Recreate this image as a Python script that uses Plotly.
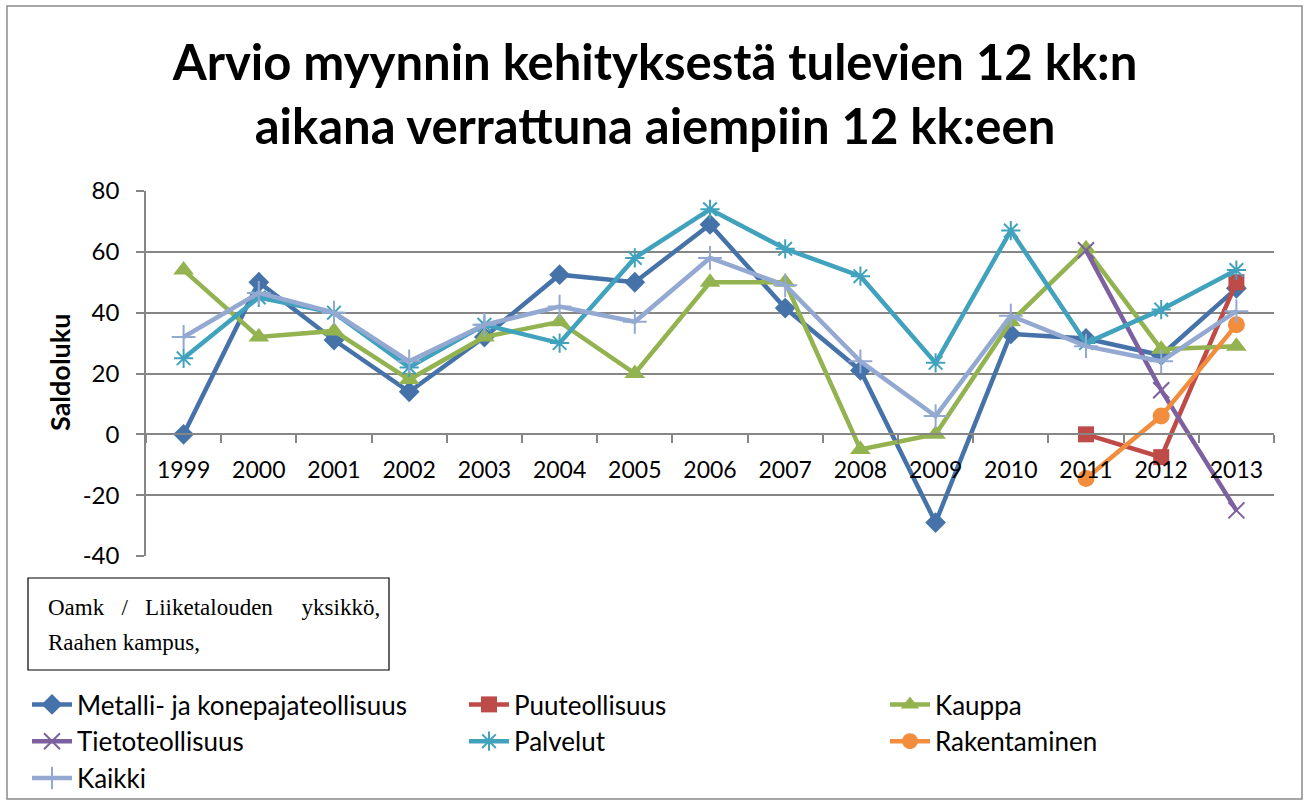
import plotly.graph_objects as go

years = ["1999", "2000", "2001", "2002", "2003", "2004", "2005", "2006",
         "2007", "2008", "2009", "2010", "2011", "2012", "2013"]

metalli = [0, 50, 31, 14, 32, 52.5, 50, 69, 41.5, 21, -29, 33, 31.5, 26, 48]
puu = [None] * 12 + [0, -7.5, 50]
kauppa = [54, 32, 34, 18, 32, 37, 20, 50, 50, -5, 0, 37, 61, 28, 29]
tieto = [None] * 12 + [60.5, 14.5, -25]
palvelut = [25, 45, 40, 22, 36, 30, 58, 74, 61, 52, 23.5, 67, 30, 41, 54]
rakent = [None] * 12 + [-14.5, 6, 36]
kaikki = [32, 46.5, 40, 24, 36, 42, 37, 58, 49, 24, 6, 39, 29, 24, 40.5]

series_names = ["Metalli- ja konepajateollisuus", "Puuteollisuus", "Kauppa",
                "Tietoteollisuus", "Palvelut", "Rakentaminen", "Kaikki"]
series_values = [metalli, puu, kauppa, tieto, palvelut, rakent, kaikki]

y_tickvals = [-40, -20, 0, 20, 40, 60, 80]
y_ticktext = ["-40", "-20", "0", "20", "40", "60", "80"]

title_text = "Arvio myynnin kehityksestä tulevien 12 kk:n<br>aikana verrattuna aiempiin 12 kk:een"
y_title = "Saldoluku"
note_line1 = "Oamk   /   Liiketalouden     yksikkö,"
note_line2 = "Raahen kampus,"

colors = ["#4672AA", "#BE4B48", "#93B350", "#7D60A0", "#40A2BD", "#F38D3E", "#93A9D2"]
symbols = ["diamond", "square", "triangle-up", "x-thin-open", "asterisk-open",
           "circle", "cross-thin-open"]
sizes = [16, 16, 18, 16, 16, 17, 17]
# legend column for each series (Excel lays them out in 3 columns)
legend_ids = ["legend", "legend2", "legend3", "legend", "legend2", "legend3", "legend"]

W, H = 1306, 800
L, R, T, B = 146, 1274, 191, 556


def px_x(px):
    return (px - L) / (R - L)


def px_y(py):
    return (B - py) / (B - T)


fig = go.Figure()
for name, vals, c, s, sz, lg in zip(series_names, series_values, colors, symbols,
                                     sizes, legend_ids):
    open_sym = s.endswith("-open")
    fig.add_trace(go.Scatter(
        x=years, y=vals, name=name, mode="lines+markers",
        line=dict(color=c, width=4.5),
        marker=dict(symbol=s, size=sz, color=c,
                    line=dict(color=c, width=2 if open_sym else 0)),
        connectgaps=False, legend=lg,
    ))


def legend_at(xpx):
    return dict(
        orientation="v", xref="container", yref="container",
        x=xpx / W, xanchor="left", y=1 - 681 / H, yanchor="top",
        font=dict(size=26), itemwidth=40, tracegroupgap=0,
        bgcolor="rgba(0,0,0,0)", borderwidth=0,
    )


serif = "Liberation Serif, DejaVu Serif, serif"

fig.update_layout(
    width=W, height=H,
    margin=dict(l=L, r=W - R, t=T, b=H - B, autoexpand=False),
    paper_bgcolor="white", plot_bgcolor="white",
    font=dict(family="Lato, Carlito, Calibri, sans-serif", color="black"),
    title=dict(
        text="<b>" + title_text + "</b>",
        x=655 / W, xref="container", xanchor="center",
        y=1 - 80 / H, yref="container", yanchor="top",
        font=dict(size=49, family="Lato, sans-serif", color="black"),
    ),
    xaxis=dict(
        type="category", range=[-0.5, 14.5], tickson="boundaries",
        ticks="outside", ticklen=8, tickcolor="#868686", tickwidth=1.5,
        showline=True, linecolor="#868686", linewidth=1.5,
        showgrid=False, anchor="free", position=1 / 3,
        tickfont=dict(size=23), ticklabelstandoff=15,
    ),
    yaxis=dict(
        range=[-40, 80], tickmode="array", tickvals=y_tickvals, ticktext=y_ticktext,
        showgrid=True, gridcolor="#868686", gridwidth=1.5,
        zeroline=False,
        showline=True, linecolor="#868686", linewidth=1.5,
        ticks="outside", ticklen=8, tickcolor="#868686", tickwidth=1.5,
        tickfont=dict(size=24), ticklabelstandoff=12,
    ),
    showlegend=True,
    legend=legend_at(27),
    legend2=legend_at(464),
    legend3=legend_at(885),
    shapes=[
        dict(type="rect", xref="paper", yref="paper",
             x0=px_x(7), x1=px_x(1302), y0=px_y(799), y1=px_y(6),
             line=dict(color="#8A8A8A", width=1.5), fillcolor="rgba(0,0,0,0)"),
        dict(type="rect", xref="paper", yref="paper",
             x0=px_x(28), x1=px_x(389), y0=px_y(670), y1=px_y(578),
             line=dict(color="black", width=1.2), fillcolor="rgba(0,0,0,0)"),
    ],
    annotations=[
        dict(text="<b>" + y_title + "</b>", xref="paper", yref="paper",
             x=px_x(59), xanchor="center", y=px_y(373), yanchor="middle",
             textangle=-90, showarrow=False,
             font=dict(size=27, color="black")),
        dict(text=note_line1, xref="paper", yref="paper",
             x=px_x(46), xanchor="left", y=px_y(607), yanchor="middle",
             showarrow=False, font=dict(family=serif, size=23, color="black")),
        dict(text=note_line2, xref="paper", yref="paper",
             x=px_x(46), xanchor="left", y=px_y(642), yanchor="middle",
             showarrow=False, font=dict(family=serif, size=23, color="black")),
    ],
)

fig.write_html("out.html", config={"displayModeBar": False},
               post_script="document.body.style.margin='0';document.body.style.overflow='hidden';")
